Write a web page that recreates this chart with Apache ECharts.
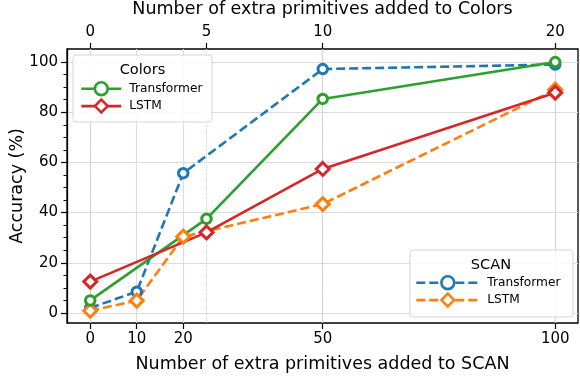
<!DOCTYPE html>
<html>
<head>
<meta charset="utf-8">
<script src="https://cdn.jsdelivr.net/npm/echarts@6/dist/echarts.min.js"></script>
<style>
    html, body { margin: 0; padding: 0; background: #fff; }
    #main { width: 580px; height: 376px; }
</style>
</head>
<body>
<div id="main"></div>
<script>
// x 值
const scanX = [0, 10, 20, 50, 100]
const colorsX = [0, 5, 10, 20]
// 准确率 (%)
const scanTransformer = [2, 8.5, 55.7, 97.2, 99]
const scanLSTM = [0.9, 4.9, 30.4, 43.4, 89]
const colorsTransformer = [5, 37.5, 85.3, 100]
const colorsLSTM = [12.5, 32.1, 57.4, 87.8]
// 刻度
const scanTicks = [0, 10, 20, 50, 100]
const colorsTicks = [0, 5, 10, 20]
const yTicks = [0, 20, 40, 60, 80, 100]
const yMinorTicks = [5, 10, 15, 25, 30, 35, 45, 50, 55, 65, 70, 75, 85, 90, 95]

const FONT = 'DejaVu Sans'

;(function () {
    const chart = echarts.init(document.getElementById('main'))
    const gridBox = { left: 67, right: 2, top: 49, bottom: 53, containLabel: false, outerBoundsMode: 'none' }

    function pairs(xs, ys) {
        return xs.map((x, i) => [x, ys[i]])
    }

    function line(name, xs, ys, axisIndex, color, symbol, dashed) {
        const isDiamond = symbol === 'diamond'
        return {
            name: name,
            type: 'line',
            xAxisIndex: axisIndex,
            data: pairs(xs, ys),
            symbol: symbol,
            symbolSize: isDiamond ? 13 : 9.5,
            showAllSymbol: true,
            animation: false,
            lineStyle: {
                color: color,
                width: 2.6,
                type: dashed ? [9, 4] : 'solid'
            },
            itemStyle: {
                color: '#fff',
                borderColor: color,
                borderWidth: 3
            },
            emphasis: { disabled: true }
        }
    }

    const tickLabel = { fontFamily: FONT, fontSize: 15, color: '#000' }
    const axisName = { fontFamily: FONT, fontSize: 17.5, color: '#000' }
    const noLine = { show: false, onZero: false }

    function legendBox(names, left, top, handle) {
        return {
            data: names,
            orient: 'vertical',
            left: left,
            top: top,
            padding: 0,
            itemWidth: handle,
            itemHeight: 16,
            itemGap: 2,
            selectedMode: false,
            z: 20,
            lineStyle: { width: 2.6 },
            itemStyle: { borderWidth: 2.6 },
            formatter: n => n.split(' ')[1],
            textStyle: { fontFamily: FONT, fontSize: 12.2, color: '#000', padding: [0, 0, 0, 3] }
        }
    }

    const option = {
        animation: false,
        grid: [
            Object.assign({
                show: true,
                borderColor: '#000',
                borderWidth: 1.3,
                backgroundColor: 'transparent'
            }, gridBox),
            // 次刻度用的第二个 grid，位置相同
            Object.assign({ show: false }, gridBox)
        ],
        xAxis: [
            {
                // 底部 SCAN
                type: 'value',
                position: 'bottom',
                min: -5,
                max: 104.9,
                name: 'Number of extra primitives added to SCAN',
                nameLocation: 'middle',
                nameGap: 32,
                nameMoveOverlap: false,
                nameTextStyle: axisName,
                axisLine: noLine,
                axisTick: {
                    show: true, length: 6, customValues: scanTicks,
                    lineStyle: { color: '#000', width: 1.2 }
                },
                axisLabel: Object.assign({ customValues: scanTicks, margin: 9 }, tickLabel),
                splitLine: { show: true, lineStyle: { color: '#dcdcdc', width: 1.2 } }
            },
            {
                // 顶部 Colors
                type: 'value',
                position: 'top',
                min: -1,
                max: 20.98,
                name: 'Number of extra primitives added to Colors',
                nameLocation: 'middle',
                nameGap: 31,
                nameMoveOverlap: false,
                nameTextStyle: axisName,
                axisLine: noLine,
                axisTick: {
                    show: true, length: 6, customValues: colorsTicks,
                    lineStyle: { color: '#000', width: 1.2 }
                },
                axisLabel: Object.assign({ customValues: colorsTicks, margin: 9 }, tickLabel),
                splitLine: { show: true, lineStyle: { color: '#cfcfcf', width: 1.2, type: 'dotted' } }
            },
            {
                gridIndex: 1,
                type: 'value',
                min: 0,
                max: 1,
                axisLine: { show: false },
                axisTick: { show: false },
                axisLabel: { show: false },
                splitLine: { show: false }
            }
        ],
        yAxis: [
            {
                type: 'value',
                position: 'left',
                min: -4,
                max: 105.2,
                name: 'Accuracy (%)',
                nameLocation: 'middle',
                nameRotate: 90,
                nameGap: 41,
                nameMoveOverlap: false,
                nameTextStyle: axisName,
                axisLine: noLine,
                axisTick: {
                    show: true, length: 6, customValues: yTicks,
                    lineStyle: { color: '#000', width: 1.2 }
                },
                axisLabel: Object.assign({ customValues: yTicks, margin: 9 }, tickLabel),
                splitLine: { show: true, lineStyle: { color: '#dcdcdc', width: 1.2 } }
            },
            {
                // 次刻度
                gridIndex: 1,
                type: 'value',
                position: 'left',
                min: -4,
                max: 105.2,
                axisLine: { show: true, onZero: false, lineStyle: { color: '#000', width: 1.3 } },
                axisTick: {
                    show: true, length: 3.5, customValues: yMinorTicks,
                    lineStyle: { color: '#000', width: 1 }
                },
                axisLabel: { show: false },
                splitLine: { show: false }
            }
        ],
        legend: [
            legendBox(['Colors Transformer', 'Colors LSTM'], 80, 81, 40),
            legendBox(['SCAN Transformer', 'SCAN LSTM'], 415, 275, 63)
        ],
        graphic: {
            elements: [
                {
                    type: 'rect', z: 10,
                    shape: { x: 73, y: 55, width: 139, height: 67, r: 3 },
                    style: { fill: 'rgba(255,255,255,0.85)', stroke: '#d6d6d6', lineWidth: 1 }
                },
                {
                    type: 'text', z: 11, x: 142.5, y: 70.5,
                    style: { text: 'Colors', fontFamily: FONT, fontSize: 14.6, fill: '#000', align: 'center', verticalAlign: 'middle' }
                },
                {
                    type: 'rect', z: 10,
                    shape: { x: 410, y: 250, width: 163, height: 67, r: 3 },
                    style: { fill: 'rgba(255,255,255,0.85)', stroke: '#d6d6d6', lineWidth: 1 }
                },
                {
                    type: 'text', z: 11, x: 491, y: 265.5,
                    style: { text: 'SCAN', fontFamily: FONT, fontSize: 14.6, fill: '#000', align: 'center', verticalAlign: 'middle' }
                }
            ]
        },
        series: [
            line('SCAN Transformer', scanX, scanTransformer, 0, '#1f77b4', 'circle', true),
            line('SCAN LSTM', scanX, scanLSTM, 0, '#ff7f0e', 'diamond', true),
            line('Colors Transformer', colorsX, colorsTransformer, 1, '#2ca02c', 'circle', false),
            line('Colors LSTM', colorsX, colorsLSTM, 1, '#d62728', 'diamond', false)
        ]
    }
    chart.setOption(option)
    window.addEventListener('resize', () => {
        chart.resize()
    })
})()
</script>
</body>
</html>
